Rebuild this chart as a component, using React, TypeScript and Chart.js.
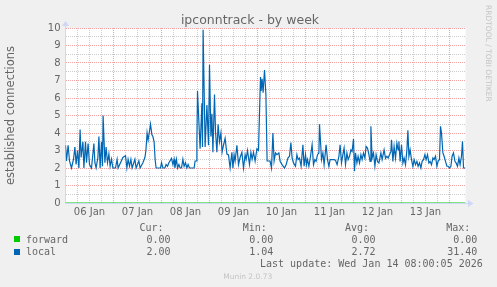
import React, { useEffect, useRef } from 'react';
import { Chart, registerables } from 'chart.js';

Chart.register(...registerables);

// time axis in hours since 06 Jan 00:00 (graph spans 200 h, ends Wed Jan 14 08:00)
const sampleHours: number[] = [
  0, 0.5, 1.3, 2, 3, 4, 4.7, 5.3, 6, 6.7,
  7.3, 7.8, 8.7, 9.2, 10, 10.5, 11.3, 12, 13, 14.2,
  14.7, 15.3, 16.2, 16.7, 17.3, 18, 18.5, 18.8, 19.7, 20.3,
  21, 21.7, 22.3, 23, 23.7, 25, 25.8, 26.3, 27.5, 28.7,
  30, 30.7, 31.3, 32, 32.7, 33.3, 34.7, 35.3, 36.7, 37.3,
  38.7, 39.7, 40.2, 40.8, 41.3, 42, 42.5, 43.2, 43.7, 44.3,
  44.8, 45.3, 47.5, 48, 48.7, 49.7, 50.3, 51, 51.7, 53,
  53.7, 54.3, 54.7, 55.5, 56, 56.7, 57.3, 58, 58.7, 59.3,
  60, 60.7, 61.3, 62, 64.3, 64.8, 65.3, 65.7, 66, 67.3,
  68.2, 68.5, 68.8, 69.8, 70.7, 71.5, 72, 72.7, 73.2, 73.7,
  74.5, 75, 75.7, 76.3, 77, 77.7, 78.3, 79, 79.8, 80.7,
  81.5, 82.3, 83.2, 83.7, 84.3, 84.8, 85.7, 86.5, 87.3, 88.2,
  89, 89.8, 90.3, 91, 92, 92.7, 93.3, 94, 94.8, 95.7,
  96.5, 97.2, 97.5, 97.8, 98.3, 98.8, 99.5, 100.2, 100.8, 102.3,
  103, 103.7, 104.3, 105, 105.7, 106.7, 107.3, 108.3, 109.5, 110.3,
  111.2, 112, 112.7, 113.3, 114, 115, 115.7, 116.3, 117, 117.8,
  118.7, 119.3, 120, 120.5, 121, 121.7, 122.5, 123.3, 124, 124.7,
  125.3, 126, 126.7, 127, 127.7, 128, 128.7, 129.3, 130.3, 131,
  131.7, 132.3, 133, 134.3, 135, 135.8, 136.7, 137.3, 138, 138.7,
  139.3, 140, 140.7, 141.3, 142, 142.7, 143.3, 144, 144.5, 145,
  145.7, 146.3, 147, 147.7, 148.3, 149, 149.7, 150.3, 151, 151.7,
  152.3, 152.7, 153.3, 154, 154.7, 155.3, 156, 156.7, 157.7, 158.3,
  159.3, 160, 160.7, 161.3, 162, 162.7, 163, 163.7, 164.3, 165,
  165.7, 166.3, 166.7, 167.3, 168, 168.7, 169.3, 170, 170.7, 171.2,
  171.7, 172.3, 173, 173.7, 174.3, 175, 175.7, 176.3, 177, 177.7,
  178.3, 179, 179.7, 180.3, 181, 181.7, 182.3, 183, 183.7, 184.3,
  185, 185.7, 186.3, 187, 187.5, 188, 188.7, 189.3, 190, 190.7,
  191.3, 192, 192.7, 193.3, 194, 194.7, 195.3, 196, 196.7, 197.3,
  198, 198.5, 199, 200,
];

const localConnections: number[] = [
  3.3, 2.4, 3.3, 2.4, 2.0, 2.5, 3.2, 2.2, 3.0, 2.0,
  4.2, 2.6, 3.5, 2.0, 3.5, 2.3, 3.4, 2.2, 2.0, 3.4,
  2.3, 2.0, 2.6, 3.8, 2.0, 3.5, 2.1, 5.0, 2.3, 3.2,
  2.3, 2.8, 2.1, 2.5, 2.0, 2.0, 2.5, 2.0, 2.3, 2.6,
  2.7, 2.0, 2.5, 2.1, 2.5, 2.0, 2.5, 2.0, 2.4, 2.0,
  2.3, 2.6, 3.0, 4.0, 3.6, 4.1, 4.5, 3.9, 3.8, 3.5,
  2.5, 2.0, 2.0, 2.3, 2.0, 2.0, 2.2, 2.1, 2.3, 2.55,
  2.2, 2.5, 2.0, 2.5, 2.0, 2.2, 2.0, 2.0, 2.5, 2.1,
  2.3, 2.0, 2.2, 2.0, 2.0, 2.4, 2.4, 3.5, 6.4, 3.1,
  5.7, 3.2, 9.9, 3.2, 5.6, 3.3, 7.9, 3.8, 5.1, 2.9,
  6.2, 4.1, 2.9, 4.5, 3.5, 4.0, 2.9, 3.3, 3.7, 2.8,
  2.75, 2.0, 2.9, 2.0, 2.75, 2.4, 3.3, 2.2, 2.6, 2.9,
  2.0, 2.75, 2.5, 3.0, 2.2, 2.9, 2.5, 2.9, 2.4, 3.1,
  3.0, 6.0, 7.2, 6.4, 7.1, 6.3, 7.6, 6.2, 2.4, 2.4,
  2.0, 4.0, 2.4, 2.86, 2.76, 2.86, 2.38, 2.19, 2.0, 2.19,
  2.57, 2.67, 3.46, 2.57, 2.29, 2.1, 2.76, 2.48, 2.57, 2.1,
  3.33, 2.1, 2.76, 2.19, 2.48, 2.1, 2.67, 3.33, 2.19, 2.48,
  2.38, 2.76, 2.86, 4.5, 3.14, 2.48, 2.86, 2.19, 3.33, 2.48,
  2.1, 2.48, 2.48, 2.48, 2.44, 2.19, 2.67, 3.33, 2.29, 2.76,
  3.14, 2.19, 2.86, 2.48, 2.67, 3.04, 2.95, 3.66, 1.81, 2.86,
  2.29, 2.67, 2.29, 2.76, 2.48, 2.86, 2.57, 3.23, 3.14, 2.76,
  2.38, 4.38, 2.57, 2.86, 2.1, 2.76, 2.38, 2.29, 2.86, 2.48,
  3.04, 2.55, 2.67, 2.57, 2.76, 2.95, 3.61, 2.38, 3.23, 2.57,
  3.42, 3.04, 3.52, 2.38, 3.33, 2.29, 2.57, 2.19, 3.04, 4.15,
  2.67, 3.04, 2.48, 2.1, 2.48, 2.19, 2.38, 2.1, 2.29, 2.0,
  2.38, 2.48, 2.76, 2.48, 2.76, 2.29, 2.38, 2.19, 2.57, 2.48,
  2.67, 2.1, 2.38, 2.48, 4.38, 3.99, 2.86, 2.67, 2.38, 2.1,
  2.1, 2.0, 2.1, 2.67, 2.86, 2.38, 2.29, 2.1, 2.57, 2.19,
  2.67, 3.52, 2.0, 2.0,
];

const forwardHours: number[] = [0, 200];
const forwardConnections: number[] = [0, 0];

const dayLabels: string[] = ['06 Jan', '07 Jan', '08 Jan', '09 Jan', '10 Jan', '11 Jan', '12 Jan', '13 Jan'];
const yTickLabels: string[] = ['0', '1', '2', '3', '4', '5', '6', '7', '8', '9', '10'];

const seriesNames: string[] = ['forward', 'local'];
const statHeaders: string[] = ['Cur:', 'Min:', 'Avg:', 'Max:'];
const curValues: string[] = ['0.00', '2.00'];
const minValues: string[] = ['0.00', '1.04'];
const avgValues: string[] = ['0.00', '2.72'];
const maxValues: string[] = ['0.00', '31.40'];

const titleText = 'ipconntrack - by week';
const yAxisTitle = 'established connections';
const lastUpdateText = 'Last update: Wed Jan 14 08:00:05 2026';
const versionText = 'Munin 2.0.73';
const sideText = 'RRDTOOL / TOBI OETIKER';

// styles
const seriesColors = ['#00cc00', '#0066b3'];
const FONT_COLOR = '#666666';
const AXIS_COLOR = '#cfd6f8';
const MAJOR_GRID = '#f2a3a3';
const MINOR_GRID = '#cccccc';
const MONO = "'DejaVu Sans Mono', monospace";
const SANS = "'DejaVu Sans', sans-serif";

const headerLefts = [139.4, 242.8, 345, 446.2];
const valueRights = [170.6, 273.3, 375.6, 477.3];
const rowCenters = [239.3, 251.7];

const decoPlugin = {
  id: 'muninDeco',
  beforeDraw(chart: any) {
    const { ctx, chartArea: a } = chart;
    ctx.save();
    ctx.fillStyle = '#f0f0f0';
    ctx.fillRect(0, 0, chart.width, chart.height);
    ctx.fillStyle = '#ffffff';
    ctx.fillRect(a.left, a.top, a.right - a.left, a.bottom - a.top);
    ctx.restore();
  },
  afterDraw(chart: any) {
    const { ctx, chartArea: a } = chart;
    ctx.save();
    ctx.strokeStyle = AXIS_COLOR;
    ctx.fillStyle = AXIS_COLOR;
    ctx.lineWidth = 1;
    const x0 = Math.round(a.left - 0.5) + 0.5;
    const y0 = Math.round(a.bottom - 0.5) + 0.5;
    ctx.beginPath();
    ctx.moveTo(x0, a.top);
    ctx.lineTo(x0, a.top - 3);
    ctx.stroke();
    ctx.beginPath();
    ctx.moveTo(x0 - 3.5, a.top - 2);
    ctx.lineTo(x0 + 3.5, a.top - 2);
    ctx.lineTo(x0, a.top - 7);
    ctx.closePath();
    ctx.fill();
    ctx.beginPath();
    ctx.moveTo(a.right, y0);
    ctx.lineTo(a.right + 3, y0);
    ctx.stroke();
    ctx.beginPath();
    ctx.moveTo(a.right + 2.5, y0 - 3.5);
    ctx.lineTo(a.right + 2.5, y0 + 3.5);
    ctx.lineTo(a.right + 8, y0);
    ctx.closePath();
    ctx.fill();
    ctx.restore();
  },
};

export default function App() {
  const ref = useRef<HTMLCanvasElement>(null);

  useEffect(() => {
    document.body.style.margin = '0';
    const canvas = ref.current;
    if (!canvas) return;
    const chart = new Chart(canvas, {
      type: 'line',
      data: {
        datasets: [
          {
            label: seriesNames[1],
            data: sampleHours.map((h, i) => ({ x: h, y: localConnections[i] })),
            borderColor: seriesColors[1],
            borderWidth: 1.2,
            pointRadius: 0,
            tension: 0,
            fill: false,
          },
          {
            label: seriesNames[0],
            data: forwardHours.map((h, i) => ({ x: h, y: forwardConnections[i] })),
            borderColor: seriesColors[0],
            borderWidth: 1,
            pointRadius: 0,
            tension: 0,
            fill: false,
          },
        ],
      },
      options: {
        animation: false,
        responsive: false,
        devicePixelRatio: 1,
        events: [],
        layout: { padding: { left: 0, top: 28, right: 31.5, bottom: 0 } },
        plugins: {
          legend: { display: false },
          title: { display: false },
          tooltip: { enabled: false },
        },
        scales: {
          x: {
            type: 'linear',
            min: 0,
            max: 200,
            afterFit: (s: any) => { s.height = 84; },
            ticks: {
              stepSize: 6,
              autoSkip: false,
              maxRotation: 0,
              minRotation: 0,
              padding: 3,
              color: FONT_COLOR,
              font: { family: SANS, size: 10 },
              callback: (v: any) => {
                const n = Number(v);
                if (n % 24 === 12) return dayLabels[(n - 12) / 24] ?? '';
                return '';
              },
            },
            grid: {
              drawTicks: false,
              color: (c: any) => {
                const v = c.tick ? c.tick.value : 0;
                if (v % 24 === 0) return MAJOR_GRID;
                if (v % 6 === 0) return MINOR_GRID;
                return 'rgba(0,0,0,0)';
              },
              lineWidth: 1,
            },
            border: { display: true, color: AXIS_COLOR, dash: [1, 1] },
          },
          y: {
            type: 'linear',
            min: 0,
            max: 10,
            afterFit: (s: any) => { s.width = 65.5; },
            ticks: {
              stepSize: 0.5,
              autoSkip: false,
              padding: 5,
              color: FONT_COLOR,
              font: { family: SANS, size: 10 },
              callback: (v: any) => {
                const n = Number(v);
                return Number.isInteger(n) ? yTickLabels[n] : '';
              },
            },
            grid: {
              drawTicks: false,
              color: (c: any) => {
                const v = c.tick ? c.tick.value : 0;
                return Number.isInteger(v) ? MAJOR_GRID : MINOR_GRID;
              },
              lineWidth: 1,
            },
            border: { display: true, color: AXIS_COLOR, dash: [1, 1] },
            title: {
              display: true,
              text: yAxisTitle,
              color: FONT_COLOR,
              font: { family: SANS, size: 11.5 },
              padding: { top: 4.5, bottom: 0 },
            },
          },
        },
      },
      plugins: [decoPlugin],
    } as any);
    return () => chart.destroy();
  }, []);

  const textBase: React.CSSProperties = {
    position: 'absolute',
    whiteSpace: 'pre',
    fontFamily: MONO,
    fontSize: 10,
    lineHeight: '12px',
    color: FONT_COLOR,
  };

  const valueCols = [curValues, minValues, avgValues, maxValues];

  return (
    <div style={{ position: 'relative', width: 497, height: 287, background: '#f0f0f0', overflow: 'hidden' }}>
      <canvas ref={ref} width={497} height={287} style={{ position: 'absolute', left: 0, top: 0, width: 497, height: 287 }} />
      <div style={{ position: 'absolute', left: 250, top: 12, transform: 'translateX(-50%)', whiteSpace: 'pre', fontFamily: SANS, fontSize: 12.5, lineHeight: '15px', color: FONT_COLOR }}>
        {titleText}
      </div>
      <div style={{ position: 'absolute', left: 484, top: 5, writingMode: 'vertical-rl', whiteSpace: 'pre', fontFamily: SANS, fontSize: 7.5, lineHeight: '9px', color: '#c4c4c4' }}>
        {sideText}
      </div>
      {statHeaders.map((h, i) => (
        <div key={'h' + i} style={{ ...textBase, left: headerLefts[i], top: 227.3 - 5.8 }}>{h}</div>
      ))}
      {seriesNames.map((name, r) => (
        <React.Fragment key={name}>
          <div style={{ position: 'absolute', left: 14, top: rowCenters[r] - 3, width: 6, height: 6, background: seriesColors[r] }} />
          <div style={{ ...textBase, left: 26, top: rowCenters[r] - 5.8 }}>{name}</div>
          {valueCols.map((col, c) => (
            <div key={c} style={{ ...textBase, right: 497 - valueRights[c], top: rowCenters[r] - 5.8, textAlign: 'right' }}>{col[r]}</div>
          ))}
        </React.Fragment>
      ))}
      <div style={{ ...textBase, left: 260, top: 263.3 - 5.8 }}>{lastUpdateText}</div>
      <div style={{ position: 'absolute', left: 247.7, top: 271.5, transform: 'translateX(-50%)', whiteSpace: 'pre', fontFamily: SANS, fontSize: 7.5, lineHeight: '9px', color: '#c4c4c4' }}>
        {versionText}
      </div>
    </div>
  );
}
